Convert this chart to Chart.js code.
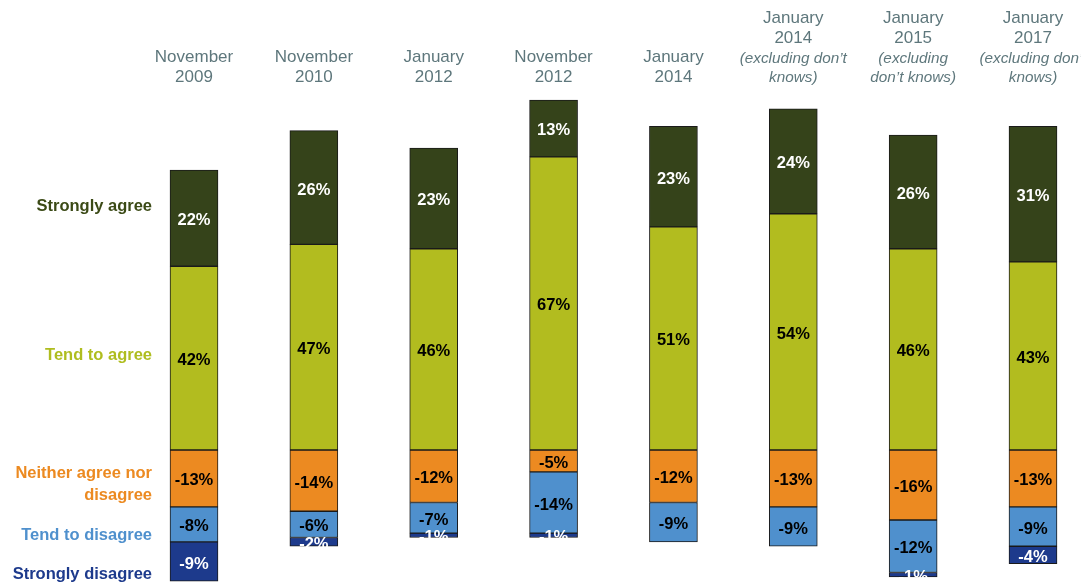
<!DOCTYPE html>
<html>
<head>
<meta charset="utf-8">
<script src="https://cdn.jsdelivr.net/npm/chart.js@4.4.0/dist/chart.umd.min.js"></script>
<style>
  body { margin: 0; background: #fff; }
  #wrap { width: 1081px; height: 583px; position: relative; }
</style>
</head>
<body>
<div id="wrap"><canvas id="myChart"></canvas></div>
<script>
var categories = [
  ['November', '2009'],
  ['November', '2010'],
  ['January', '2012'],
  ['November', '2012'],
  ['January', '2014'],
  ['January', '2014'],
  ['January', '2015'],
  ['January', '2017']
];
var notes = [[], [], [], [], [],
  ['(excluding don\u2019t', 'knows)'],
  ['(excluding', 'don\u2019t knows)'],
  ['(excluding don\u2019t', 'knows)']
];

var stronglyAgree = [22, 26, 23, 13, 23, 24, 26, 31];
var tendToAgree = [42, 47, 46, 67, 51, 54, 46, 43];
var neither = [-13, -14, -12, -5, -12, -13, -16, -13];
var tendToDisagree = [-8, -6, -7, -14, -9, -9, -12, -9];
var stronglyDisagree = [-9, -2, -1, -1, null, null, -1, -4];

var seriesNames = ['Tend to agree', 'Strongly agree', 'Neither agree nor disagree', 'Tend to disagree', 'Strongly disagree'];

var colors = ['#b2bc1f', '#35431a', '#ec8a21', '#4f90cd', '#1d3a8c'];
var labelColors = ['#000', '#fff', '#000', '#000', '#fff'];
var FONT = '"Liberation Sans", Arial, sans-serif';

// side labels: text lines, y value they sit at, colour
var sideLabels = [
  { lines: ['Strongly agree'], y: 55.7, color: '#3b4a16' },
  { lines: ['Tend to agree'], y: 21.6, color: '#afbd1f' },
  { lines: ['Neither agree nor', 'disagree'], y: -7.9, color: '#ec8a21' },
  { lines: ['Tend to disagree'], y: -19.5, color: '#4f90cd' },
  { lines: ['Strongly disagree'], y: -28.4, color: '#1d3a8c' }
];

var labelsPlugin = {
  id: 'labelsPlugin',
  afterDatasetsDraw: function(chart) {
    var ctx = chart.ctx;
    var xs = chart.scales.x;
    var ys = chart.scales.y;
    ctx.save();
    ctx.textAlign = 'center';
    ctx.textBaseline = 'middle';
    ctx.font = 'bold 16.5px ' + FONT;
    chart.data.datasets.forEach(function(ds, di) {
      var meta = chart.getDatasetMeta(di);
      meta.data.forEach(function(bar, i) {
        var v = ds.data[i];
        if (v === null) return;
        ctx.fillStyle = labelColors[di];
        ctx.fillText(v + '%', bar.x, (bar.y + bar.base) / 2 + 2.5);
      });
    });

    // category headers
    categories.forEach(function(lines, i) {
      var x = xs.getPixelForValue(i);
      var all = lines.concat(notes[i]);
      var ypos = all.length > 2 ? [18, 38, 59, 78] : [57, 77];
      all.forEach(function(t, k) {
        var italic = k >= lines.length;
        ctx.font = (italic ? 'italic 15.3px ' : '17px ') + FONT;
        ctx.fillStyle = '#5e777c';
        ctx.fillText(t, x, ypos[k]);
      });
    });

    // side labels
    ctx.textAlign = 'right';
    ctx.font = 'bold 16.5px ' + FONT;
    sideLabels.forEach(function(s) {
      var y = ys.getPixelForValue(s.y);
      var y0 = y - (s.lines.length - 1) * 11;
      ctx.fillStyle = s.color;
      s.lines.forEach(function(t, k) {
        ctx.fillText(t, 152, y0 + k * 22);
      });
    });
    ctx.restore();
  }
};

var data = [tendToAgree, stronglyAgree, neither, tendToDisagree, stronglyDisagree];

var ctx = document.getElementById('myChart').getContext('2d');
var myChart = new Chart(ctx, {
  type: 'bar',
  data: {
    labels: categories.map(function(c) { return c.join(' '); }),
    datasets: data.map(function(d, i) {
      return {
        label: seriesNames[i],
        data: d,
        backgroundColor: colors[i],
        borderColor: '#1a1a1a',
        borderWidth: 1,
        borderSkipped: false,
        barThickness: 48,
        clip: false
      };
    })
  },
  options: {
    responsive: true,
    maintainAspectRatio: false,
    animation: false,
    layout: { padding: { left: 194, right: 48, top: 100, bottom: 0 } },
    plugins: {
      legend: { display: false },
      tooltip: { enabled: false }
    },
    scales: {
      x: {
        stacked: true,
        display: false,
        offset: false,
        grid: { display: false }
      },
      y: {
        stacked: true,
        display: false,
        min: -30.4,
        max: 80,
        grid: { display: false }
      }
    }
  },
  plugins: [labelsPlugin]
});
</script>
</body>
</html>
